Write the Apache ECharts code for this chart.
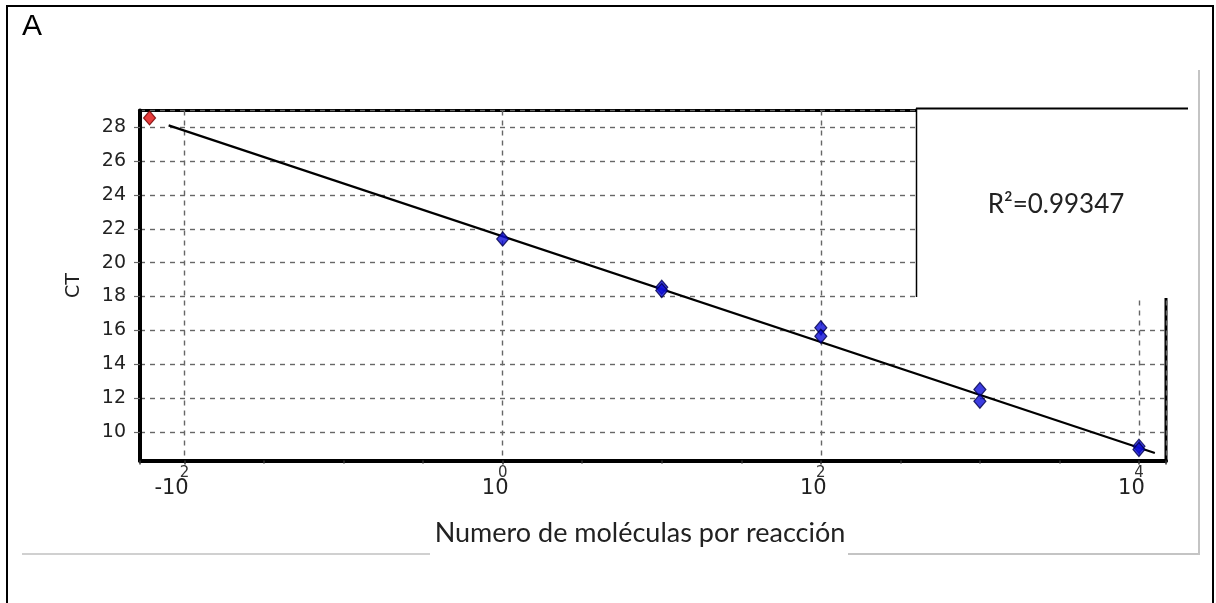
<!DOCTYPE html>
<html><head><meta charset="utf-8">
<script src="https://cdn.jsdelivr.net/npm/echarts@6/dist/echarts.min.js"></script>
<style>html,body{margin:0;padding:0;background:#fff}#c{width:1216px;height:603px}</style>
</head><body><div id="c"></div>
<script>
// ---- data ----
const panelLabel = 'A';
const xTitle = 'Numero de moléculas por reacción';
const yTitle = 'CT';
const r2Text = 'R²=0.99347';
const xLogMin = -2.28, xLogMax = 4.17;      // log10(molecules) extent
const yMin = 8.3, yMax = 29;
const xTickExps = [-2, 0, 2, 4];             // labelled decades: 10^-2 ... 10^4
const stdLogN = [0, 1, 1, 2, 2, 3, 3, 4, 4];
const stdCT   = [21.4, 18.55, 18.35, 16.15, 15.65, 12.5, 11.8, 9.15, 8.95];
const outlierLogN = [-2.22];
const outlierCT   = [28.56];
const fitLogN = [-2.1, 4.1];
const fitCT   = [28.12, 8.74];

const zip = (a, b) => a.map((v, i) => [v, b[i]]);
const chart = echarts.init(document.getElementById('c'), null, {renderer: 'canvas'});
const gridLine = {show: true, lineStyle: {color: '#666', type: [5, 5], width: 1.4}};

const option = {
  animation: false,
  backgroundColor: '#fff',
  grid: {left: 140, right: 50, top: 110.5, bottom: 142.5, show: true, borderColor: '#000', borderWidth: 3, backgroundColor: '#fff'},
  xAxis: [{
    type: 'value', min: xLogMin, max: xLogMax, splitNumber: 3,
    axisLine: {show: true, onZero: false, lineStyle: {color: '#000', width: 4}},
    axisTick: {show: true, length: 4, lineStyle: {color: '#333', width: 1.5}},
    minorTick: {show: true, splitNumber: 4, length: 3, lineStyle: {color: '#333', width: 1.5}},
    splitLine: gridLine,
    axisLabel: {
      showMinLabel: false, showMaxLabel: false, margin: 18,
      formatter: v => xTickExps.indexOf(v) < 0 ? '' : (v < 0 ? '{m|-10}' : '{p|10}'),
      rich: {
        m: {fontFamily: 'DejaVu Sans', fontSize: 21, color: '#222', padding: [0, 26, 0, 0]},
        p: {fontFamily: 'DejaVu Sans', fontSize: 21, color: '#222', padding: [0, 15, 0, 0]}
      }
    }
  }, {
    type: 'value', min: xLogMin, max: xLogMax, splitNumber: 3, position: 'bottom',
    axisLine: {show: false, onZero: false}, axisTick: {show: false}, splitLine: {show: false},
    axisLabel: {
      showMinLabel: false, showMaxLabel: false, margin: 5,
      fontFamily: 'DejaVu Sans', fontSize: 15, color: '#333',
      formatter: v => xTickExps.indexOf(v) < 0 ? '' : String(Math.abs(v))
    }
  }],
  yAxis: {
    type: 'value', min: yMin, max: yMax, splitNumber: 10,
    name: yTitle, nameLocation: 'middle', nameGap: 56,
    nameTextStyle: {fontFamily: 'DejaVu Sans', fontSize: 19, color: '#222'},
    axisLine: {show: true, onZero: false, lineStyle: {color: '#000', width: 4}},
    axisTick: {show: true, length: 6, lineStyle: {color: '#666', width: 1.2}},
    splitLine: gridLine,
    axisLabel: {showMinLabel: false, showMaxLabel: false, margin: 14, fontFamily: 'DejaVu Sans', fontSize: 19, color: '#222'}
  },
  series: [{
    type: 'line', data: zip(fitLogN, fitCT), symbol: 'none', z: 3,
    lineStyle: {color: '#000', width: 2.2}
  }, {
    type: 'scatter', data: zip(stdLogN, stdCT), symbol: 'diamond', symbolSize: [12, 14], z: 4,
    itemStyle: {color: '#0c0cd8', borderColor: '#00004a', borderWidth: 1.2}
  }, {
    type: 'scatter', data: zip(outlierLogN, outlierCT), symbol: 'diamond', symbolSize: [12, 14], z: 4,
    itemStyle: {color: '#e00a0a', borderColor: '#700000', borderWidth: 1.2}
  }],
  graphic: [
    {type: 'rect', z: 100, shape: {x: 7, y: 6, width: 1206, height: 640}, style: {fill: 'none', stroke: '#000', lineWidth: 2}},
    {type: 'line', z: 90, shape: {x1: 1199, y1: 70, x2: 1199, y2: 555}, style: {stroke: '#c4c4c4', lineWidth: 2}},
    {type: 'line', z: 90, shape: {x1: 22, y1: 554, x2: 430, y2: 554}, style: {stroke: '#d0d0d0', lineWidth: 2}},
    {type: 'line', z: 90, shape: {x1: 848, y1: 554, x2: 1200, y2: 554}, style: {stroke: '#c4c4c4', lineWidth: 2}},
    {type: 'rect', z: 100, shape: {x: 917, y: 108, width: 271, height: 190}, style: {fill: '#fff'}},
    {type: 'line', z: 101, shape: {x1: 916, y1: 108.5, x2: 1188, y2: 108.5}, style: {stroke: '#000', lineWidth: 2}},
    {type: 'line', z: 101, shape: {x1: 916.5, y1: 108, x2: 916.5, y2: 297}, style: {stroke: '#000', lineWidth: 1.5}},
    {type: 'text', z: 102, x: 1056, y: 205, style: {text: r2Text, font: '26px Lato', fill: '#222', align: 'center', verticalAlign: 'middle'}},
    {type: 'text', z: 102, x: 22, y: 12, style: {text: panelLabel, font: '30px "Liberation Sans"', fill: '#000'}},
    {type: 'text', z: 102, x: 640, y: 533, style: {text: xTitle, font: '27px Lato', fill: '#222', align: 'center', verticalAlign: 'middle'}}
  ]
};
chart.setOption(option);
</script>
</body></html>
